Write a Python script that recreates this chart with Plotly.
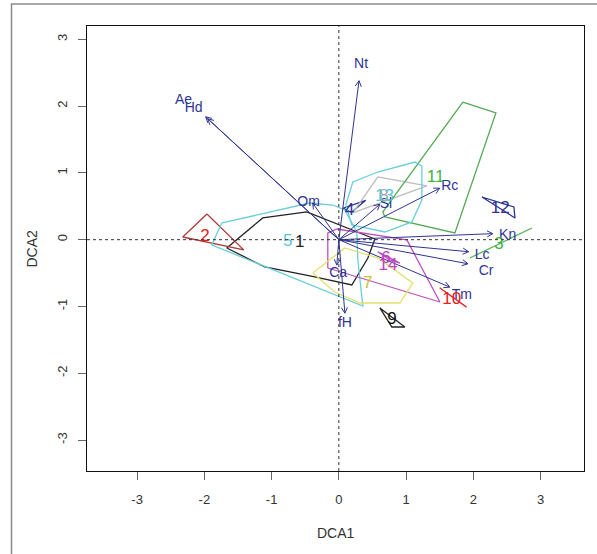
import math
import plotly.graph_objects as go

# ---------------- data ----------------
species = ["Nt", "Ae", "Hd", "Om", "Sl", "Rc", "Kn", "Lc", "Cr", "Tm", "fH", "Ca"]
arrow_x = [0.30, -1.98, -1.95, -0.39, 0.61, 1.50, 2.29, 1.93, 1.92, 1.65, 0.09, -0.03]
arrow_y = [2.38, 1.84, 1.81, 0.55, 0.53, 0.77, 0.09, -0.18, -0.36, -0.71, -1.10, -0.38]
label_x = [0.33, -2.31, -2.16, -0.45, 0.70, 1.65, 2.51, 2.13, 2.19, 1.83, 0.09, -0.01]
label_y = [2.62, 2.09, 1.96, 0.56, 0.52, 0.80, 0.07, -0.23, -0.47, -0.84, -1.25, -0.51]

group_ids = ["1", "2", "3", "4", "5", "6", "7", "8", "9", "10", "11", "12", "13", "14"]
group_lx = [-0.58, -1.99, 2.38, 0.16, -0.76, 0.70, 0.43, 0.67, 0.79, 1.68, 1.44, 2.40, 0.68, 0.73]
group_ly = [-0.05, 0.05, -0.08, 0.44, -0.03, -0.29, -0.66, 0.64, -1.20, -0.90, 0.92, 0.47, 0.64, -0.39]

hull_1 = [(-1.667, -0.124), (-1.131, 0.325), (-0.476, 0.415), (0.536, 0.010), (0.432, -0.274),
          (0.193, -0.678), (-0.357, -0.558), (-1.101, -0.409)]
hull_2 = [(-1.961, 0.385), (-2.321, 0.040), (-1.414, -0.153)]
hull_3 = [(1.949, -0.274), (2.872, 0.175)]
hull_4 = [(0.06, 0.47), (0.40, 0.59), (0.19, 0.41)]
hull_5 = [(-1.741, 0.250), (-0.432, 0.549), (-0.089, 0.519), (0.089, 0.445), (0.268, 0.115),
          (0.283, -0.304), (0.357, -0.993), (-1.890, -0.079)]
hull_6 = [(-0.164, -0.424), (-0.164, 0.100), (-0.030, 0.160), (1.012, -0.004), (1.503, -0.933)]
hull_7 = [(-0.387, -0.498), (0.089, -0.124), (0.580, -0.273), (1.101, -0.648), (0.908, -0.948),
          (0.313, -0.948), (-0.060, -0.783)]
hull_8 = [(0.580, 0.939), (1.310, 0.804), (0.208, 0.400)]
hull_9 = [(0.610, -1.022), (0.982, -1.307), (0.789, -1.307)]
hull_10 = [(1.50, -0.72), (1.90, -1.01), (1.60, -0.80)]
hull_11 = [(1.845, 2.061), (2.336, 1.897), (1.726, 0.101), (0.685, 0.340), (0.655, 0.415)]
hull_12 = [(2.128, 0.639), (2.604, 0.490), (2.619, 0.325)]
hull_13 = [(0.104, 0.519), (0.208, 0.864), (0.580, 1.013), (1.131, 1.163), (1.235, 1.103),
           (1.235, 0.594), (1.086, 0.265), (0.685, 0.115), (0.193, 0.220)]
hull_14 = [(0.58, -0.18), (0.91, -0.35), (0.75, -0.30)]

x_ticks = [-3, -2, -1, 0, 1, 2, 3]
y_ticks = [-3, -2, -1, 0, 1, 2, 3]

# ---------------- styling ----------------
W, H = 597, 554
ML, MR, MT, MB = 87, 13, 26, 83
XR = [-3.745, 3.646]
YR = [-3.463, 3.199]
NAVY = "#2F3494"
FONT = "Liberation Sans, Arial, sans-serif"

hull_colors = ["#222222", "#B03A3A", "#55B455", NAVY, "#66CFDA", "#BC52BC", "#E4E070",
               "#BDBDBD", "#222222", "#E02424", "#55AA55", NAVY, "#66CFDA", "#BC52BC"]
label_colors = ["#222222", "#E8211D", "#3DB43D", NAVY, "#55C8D8", "#C040C0", "#C8C430",
                "#A8A8A8", "#111111", "#E8211D", "#3DB43D", NAVY, "#55C8D8", "#C040C0"]
hulls = [hull_1, hull_2, hull_3, hull_4, hull_5, hull_6, hull_7, hull_8, hull_9, hull_10,
         hull_11, hull_12, hull_13, hull_14]

fig = go.Figure()

# hulls
for pts, col in zip(hulls, hull_colors):
    xs = [p[0] for p in pts]
    ys = [p[1] for p in pts]
    if len(pts) > 2:
        xs.append(xs[0])
        ys.append(ys[0])
    fig.add_trace(go.Scatter(x=xs, y=ys, mode="lines", line=dict(color=col, width=1.3),
                             hoverinfo="skip", showlegend=False))

# arrows (shafts + open heads computed in pixel space)
pw = W - ML - MR
ph = H - MT - MB
sx = pw / (XR[1] - XR[0])
sy = ph / (YR[1] - YR[0])
hx, hy = [], []
head_len = 6.5
ang = math.radians(28)
for ex, ey in zip(arrow_x, arrow_y):
    hx += [0, ex, None]
    hy += [0, ey, None]
    dx, dy = ex * sx, ey * sy
    d = math.hypot(dx, dy)
    ux, uy = dx / d, dy / d
    for s in (1, -1):
        ca, sa = math.cos(s * ang), math.sin(s * ang)
        rx = ux * ca - uy * sa
        ry = ux * sa + uy * ca
        hx += [ex, ex - head_len * rx / sx, None]
        hy += [ey, ey - head_len * ry / sy, None]
fig.add_trace(go.Scatter(x=hx, y=hy, mode="lines", line=dict(color=NAVY, width=1),
                         hoverinfo="skip", showlegend=False))

# species labels
fig.add_trace(go.Scatter(x=label_x, y=label_y, mode="text", text=species,
                         textfont=dict(family=FONT, size=14, color=NAVY),
                         hoverinfo="skip", showlegend=False))

# group labels
fig.add_trace(go.Scatter(x=group_lx, y=group_ly, mode="text", text=group_ids,
                         textfont=dict(family=FONT, size=17, color=label_colors),
                         hoverinfo="skip", showlegend=False))

shapes = [
    dict(type="line", xref="x", yref="paper", x0=0, x1=0, y0=0, y1=1,
         line=dict(color="#333333", width=1, dash="dot")),
    dict(type="line", xref="paper", yref="y", x0=0, x1=1, y0=0, y1=0,
         line=dict(color="#333333", width=1, dash="dot")),
    # outer frame of the image
    dict(type="rect", xref="paper", yref="paper",
         x0=(11.5 - ML) / pw, x1=(W + 10 - ML) / pw,
         y0=-(H + 10 - MT - ph) / ph, y1=1 + (MT - 4) / ph,
         line=dict(color="#8A8A8A", width=1.5)),
]

annotations = [
    dict(text="DCA1", xref="paper", yref="paper", x=0.5, y=0, yshift=-62,
         showarrow=False, font=dict(family=FONT, size=14, color="#333333"),
         xanchor="center", yanchor="middle"),
    dict(text="DCA2", xref="paper", yref="paper", x=0, y=0.5, xshift=-56,
         showarrow=False, textangle=-90, font=dict(family=FONT, size=14, color="#333333"),
         xanchor="center", yanchor="middle"),
]

axis_common = dict(showgrid=False, zeroline=False, showline=True, linecolor="#111111",
                   linewidth=1.2, mirror=True, ticks="outside", ticklen=8,
                   tickcolor="#666666", tickwidth=1,
                   tickfont=dict(family=FONT, size=13, color="#333333"))

fig.update_layout(
    width=W, height=H,
    margin=dict(l=ML, r=MR, t=MT, b=MB),
    paper_bgcolor="white", plot_bgcolor="white",
    xaxis=dict(range=XR, tickvals=x_ticks, ticktext=[str(v) for v in x_ticks],
               ticklabelstandoff=8, **axis_common),
    yaxis=dict(range=YR, tickvals=y_ticks, ticktext=[str(v) for v in y_ticks],
               tickangle=-90, ticklabelstandoff=6, **axis_common),
    shapes=shapes, annotations=annotations, showlegend=False,
)

fig.write_html("out.html", config={"displayModeBar": False},
               post_script="document.body.style.margin='0';document.body.style.overflow='hidden';")
